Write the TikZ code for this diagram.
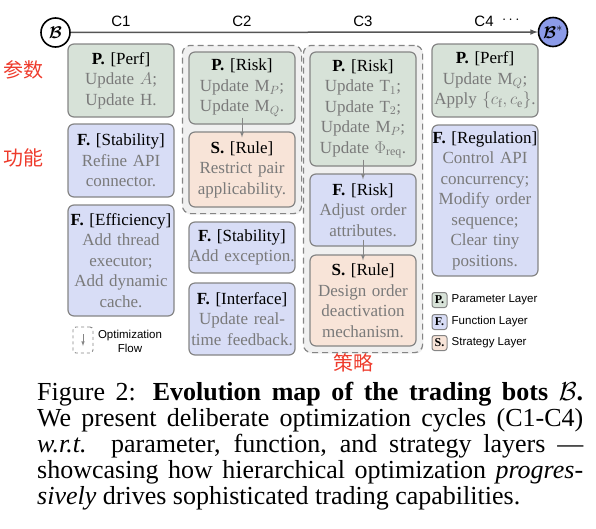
\RequirePackage{fix-cm}
\documentclass[tikz,border=0pt]{standalone}
\usepackage{amsmath}
\usepackage{bm}
\usepackage{fontspec}
\setmainfont{Liberation Serif}
\newfontfamily\sansf{Liberation Sans}
\newfontfamily\cjk{Noto Sans CJK SC}
\usetikzlibrary{positioning,fit,backgrounds,shadows}

\definecolor{pfill}{HTML}{D7E2D8}
\definecolor{ffill}{HTML}{D8DDF6}
\definecolor{sfill}{HTML}{F8E4D8}
\definecolor{gfill}{HTML}{F0F0F0}
\definecolor{edgegray}{HTML}{858585}
\definecolor{bodygray}{HTML}{7A7A7A}
\definecolor{linegray}{HTML}{555555}
\definecolor{bstar}{HTML}{8C9BE8}
\definecolor{notered}{HTML}{EE3B2C}

\newcommand{\boxfont}{\fontsize{17}{20.5}\selectfont}
\newcommand{\capfont}{\fontsize{26}{26}\selectfont}
\newcommand{\ptag}[1]{\textbf{P.} [#1]}
\newcommand{\ftag}[1]{\textbf{F.} [#1]}
\newcommand{\stag}[1]{\textbf{S.} [#1]}
\newcommand{\bodytxt}[1]{{\color{bodygray}#1}}

\begin{document}
\begin{tikzpicture}
    [
        x=1pt, y=-1pt,
        bot/.style={circle, draw=black, line width=1.6pt, minimum size=29pt, inner sep=0pt,
                    font=\fontsize{17}{17}\selectfont},
        cyc/.style={font=\sansf\fontsize{15}{15}\selectfont, inner sep=0pt},
        layer/.style={rectangle, rounded corners=6pt, draw=edgegray, line width=1.2pt,
                      text width=106pt, inner xsep=0pt, inner ysep=3pt, align=center, font=\boxfont},
        parlayer/.style={layer, fill=pfill},
        funlayer/.style={layer, fill=ffill},
        strlayer/.style={layer, fill=sfill},
        group/.style={draw=edgegray, dash pattern=on 6pt off 4pt, line width=1.2pt,
                      rounded corners=8pt, fill=gfill, inner sep=6pt,
                      drop shadow={opacity=0.12, shadow xshift=0.8pt, shadow yshift=-1pt}},
        flow/.style={-latex, draw=edgegray, line width=0.8pt},
        timeline/.style={-latex, draw=linegray, line width=1.5pt},
        legbox/.style={rectangle, rounded corners=2.5pt, draw=edgegray, line width=1pt,
                       minimum size=15pt, inner sep=0pt, font=\bfseries\fontsize{12}{12}\selectfont},
        legtxt/.style={font=\sansf\fontsize{11.5}{14}\selectfont, inner sep=0pt},
        flowbox/.style={rectangle, rounded corners=3pt, draw=edgegray, dashed, line width=0.9pt,
                        minimum width=20pt, minimum height=26pt},
        note/.style={font=\cjk\fontsize{20}{20}\selectfont, text=notered, inner sep=0pt},
    ]
    \useasboundingbox (0,0) rectangle (596,528);

    % timeline
    \node (b0) at (55.5,32.5) [bot, fill=white] {$\boldsymbol{\mathcal{B}}$};
    \node (b1) at (553,32)    [bot, fill=bstar] {$\boldsymbol{\mathcal{B}}^{*}$};
    \draw[timeline] (b0) -- (b1);

    \node (c1)   at (121,21) [cyc] {C1};
    \node (c2)   at (242,21) [cyc] {C2};
    \node (c3)   at (363,21) [cyc] {C3};
    \node (c4)   at (484,21) [cyc] {C4};
    \node (more) at (512,20) [cyc] {$\cdots$};

    % C1
    \node (p1)  at (121,80.5)  [parlayer, minimum height=73pt]
        {\ptag{Perf}\\\bodytxt{Update $A$;\\Update H.}};
    \node (f1a) at (121,160.5) [funlayer, minimum height=73pt]
        {\ftag{Stability}\\\bodytxt{Refine API\\connector.}};
    \node (f1b) at (121,260.5) [funlayer, minimum height=111pt]
        {\ftag{Efficiency}\\\bodytxt{Add thread\\executor;\\Add dynamic\\cache.}};

    % C2
    \node (p2)  at (242,88)    [parlayer, minimum height=72pt]
        {\ptag{Risk}\\\bodytxt{Update M$_P$;\\Update M$_Q$.}};
    \node (s2)  at (242,169.5) [strlayer, minimum height=75pt]
        {\stag{Rule}\\\bodytxt{Restrict pair\\applicability.}};
    \node (f2a) at (242,247.5) [funlayer, minimum height=51pt]
        {\ftag{Stability}\\\bodytxt{Add exception.}};
    \node (f2b) at (242,319)   [funlayer, minimum height=72pt]
        {\ftag{Interface}\\\bodytxt{Update real-\\time feedback.}};

    % C3
    \node (p3)  at (363,109)   [parlayer, minimum height=114pt]
        {\ptag{Risk}\\\bodytxt{Update T$_1$;\\Update T$_2$;\\Update M$_P$;\\Update $\Phi_{\mathrm{req}}$.}};
    \node (f3)  at (363,210)   [funlayer, minimum height=72pt]
        {\ftag{Risk}\\\bodytxt{Adjust order\\attributes.}};
    \node (s3)  at (363,300.5) [strlayer, minimum height=91pt]
        {\stag{Rule}\\\bodytxt{Design order\\deactivation\\mechanism.}};

    % C4
    \node (p4)  at (485,80.5)  [parlayer, minimum height=73pt]
        {\ptag{Perf}\\\bodytxt{Update M$_Q$;\\Apply $\{c_{\mathrm{f}}, c_{\mathrm{e}}\}$.}};
    \node (f4)  at (485,200.5) [funlayer, minimum height=151pt]
        {\ftag{Regulation}\\\bodytxt{Control API\\concurrency;\\Modify order\\sequence;\\Clear tiny\\positions.}};

    % cycle groups
    \begin{scope}[on background layer]
        \node (g2) [group, fit=(p2)(s2)] {};
        \node (g3) [group, fit=(p3)(s3)] {};
    \end{scope}

    \draw[flow] ([yshift=7pt]p2.south) -- ([yshift=-6pt]s2.north);
    \draw[flow] ([yshift=7pt]p3.south) -- ([yshift=-6pt]f3.north);
    \draw[flow] ([yshift=7pt]f3.south) -- ([yshift=-6pt]s3.north);

    % legend
    \node (ofl) at (83,340) [flowbox] {};
    \draw[flow, line width=0.6pt] ([yshift=6pt]ofl.center) -- ([yshift=-6pt]ofl.center);
    \node (oft) at (130,341) [legtxt, align=center] {Optimization\\Flow};

    \node (lp) at (439.5,300) [legbox, fill=pfill] {P.};
    \node (lpt) [legtxt, right=4pt of lp] {Parameter Layer};
    \node (lf) at (439.5,322) [legbox, fill=ffill] {F.};
    \node (lft) [legtxt, right=4pt of lf] {Function Layer};
    \node (ls) at (439.5,343) [legbox, fill=sfill] {S.};
    \node (lst) [legtxt, right=4pt of ls] {Strategy Layer};

    % notes
    \node (n1) at (23,70)   [note] {参数};
    \node (n2) at (23,158)  [note] {功能};
    \node (n3) at (353,363) [note] {策略};

    % caption
    \node (cap) at (37,382) [anchor=north west, text width=546pt, align=justify, inner sep=0pt, font=\capfont]
        {Figure 2: \textbf{Evolution map of the trading bots $\mathcal{B}$.}\linebreak
         We present deliberate optimization cycles (C1-C4)\linebreak
         \emph{w.r.t.} parameter, function, and strategy layers ---\linebreak
         showcasing how hierarchical optimization \emph{progres-}\linebreak
         \emph{sively} drives sophisticated trading capabilities.};

\end{tikzpicture}
\end{document}
